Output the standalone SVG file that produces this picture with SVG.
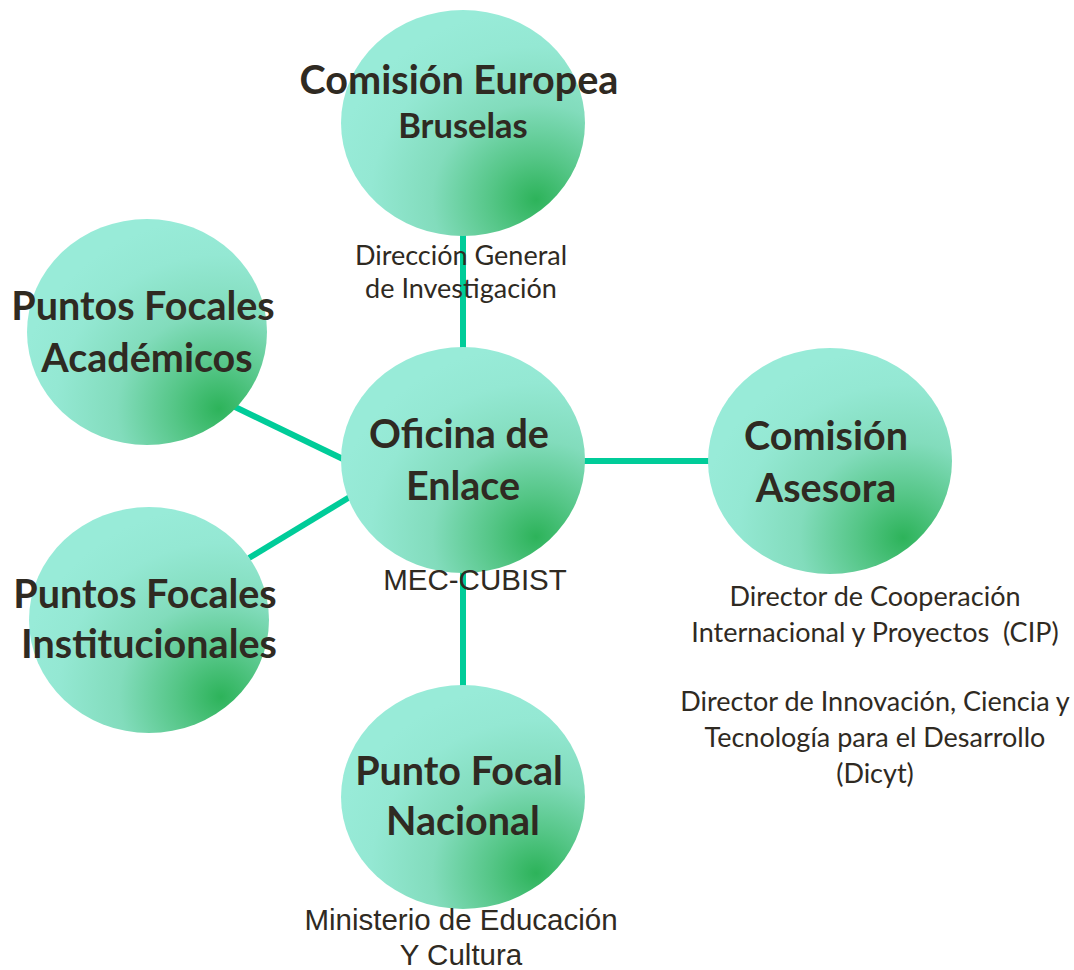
<svg xmlns="http://www.w3.org/2000/svg" width="1074" height="970" viewBox="0 0 1074 970">
<defs>
<radialGradient id="g" cx="0.8" cy="0.84" r="0.85" fx="0.8" fy="0.84">
<stop offset="0" stop-color="#2db35a"/>
<stop offset="0.22" stop-color="#55c687"/>
<stop offset="0.5" stop-color="#82dcbc"/>
<stop offset="0.8" stop-color="#94e8d3"/>
<stop offset="1" stop-color="#98ebd8"/>
</radialGradient>
</defs>
<style>
.n{fill:url(#g)}
.t{font-family:Lato,"Liberation Sans",sans-serif;font-weight:bold;fill:#2f2a22;text-anchor:middle}
.s{font-family:Lato,"Liberation Sans",sans-serif;fill:#2f2a22;text-anchor:middle;font-size:27px}
.a{font-family:"Liberation Sans",Arial,sans-serif;fill:#2f2a22;text-anchor:middle;font-size:29.5px}
.c{stroke:#00cc99;stroke-width:6;fill:none}
</style>
<rect width="1074" height="970" fill="#ffffff"/>
<g id="connectors">
<line class="c" x1="463" y1="234" x2="463" y2="350"/>
<line class="c" x1="584" y1="461" x2="710" y2="461"/>
<line class="c" x1="463" y1="571" x2="463" y2="687"/>
<line class="c" x1="231" y1="405" x2="345" y2="460"/>
<line class="c" x1="249" y1="558" x2="358" y2="492"/>
</g>
<g id="comision-europea">
<ellipse class="n" cx="463" cy="123" rx="122" ry="113"/>
<text class="t" x="459" y="94" font-size="39.6">Comisión Europea</text>
<text class="t" x="463" y="138" font-size="34.5">Bruselas</text>
<text class="s" x="461" y="265">Dirección General</text>
<text class="s" x="461" y="298">de Investigación</text>
</g>
<g id="oficina-enlace">
<ellipse class="n" cx="463" cy="460" rx="122" ry="113"/>
<text class="t" x="459" y="448" font-size="39.5">Oficina de</text>
<text class="t" x="463" y="500" font-size="39.5">Enlace</text>
<text class="a" x="475" y="590">MEC-CUBIST</text>
</g>
<g id="comision-asesora">
<ellipse class="n" cx="830" cy="461" rx="122" ry="113"/>
<text class="t" x="826" y="450" font-size="39.5">Comisión</text>
<text class="t" x="826" y="502" font-size="39.5">Asesora</text>
<text class="s" x="875" y="606">Director de Cooperación</text>
<text class="s" x="875" y="642" xml:space="preserve">Internacional y Proyectos  (CIP)</text>
<text class="s" x="875" y="711">Director de Innovación, Ciencia y</text>
<text class="s" x="875" y="747">Tecnología para el Desarrollo</text>
<text class="s" x="875" y="783">(Dicyt)</text>
</g>
<g id="puntos-academicos">
<ellipse class="n" cx="147" cy="332" rx="120" ry="113"/>
<text class="t" x="143" y="320" font-size="39.5">Puntos Focales</text>
<text class="t" x="147" y="372" font-size="39.5">Académicos</text>
</g>
<g id="puntos-institucionales">
<ellipse class="n" cx="149" cy="620" rx="120" ry="113"/>
<text class="t" x="145" y="608" font-size="39.5">Puntos Focales</text>
<text class="t" x="149" y="658" font-size="39.5">Institucionales</text>
</g>
<g id="punto-nacional">
<ellipse class="n" cx="463" cy="797" rx="122" ry="112"/>
<text class="t" x="459" y="785" font-size="39.5">Punto Focal</text>
<text class="t" x="463" y="835" font-size="39.5">Nacional</text>
<text class="a" x="461" y="930">Ministerio de Educación</text>
<text class="a" x="461" y="965">Y Cultura</text>
</g>
</svg>
